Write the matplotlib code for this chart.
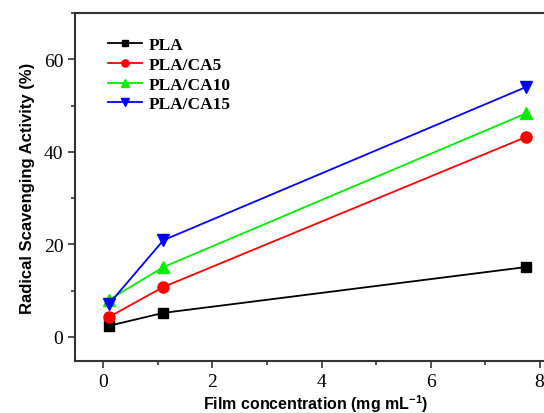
import numpy as np
import matplotlib.pyplot as plt
from matplotlib.ticker import MultipleLocator

plt.rcParams['mathtext.fontset'] = 'custom'
plt.rcParams['mathtext.rm'] = 'Liberation Sans:bold'
plt.rcParams['mathtext.bf'] = 'Liberation Sans:bold'

conc = [0.1, 1.1, 7.75]
pla = [2.4, 5.2, 15.1]
ca5 = [4.3, 10.8, 43.2]
ca10 = [8.0, 15.1, 48.3]
ca15 = [7.1, 20.9, 54.0]

series = [
    (pla, 's', 'black', 'PLA', 7),
    (ca5, 'o', 'red', 'PLA/CA5', 8),
    (ca10, '^', '#00ee00', 'PLA/CA10', 8.5),
    (ca15, 'v', 'blue', 'PLA/CA15', 8.5),
]

fig = plt.figure(figsize=(5.44, 4.14), dpi=100)
ax = fig.add_axes([0.138, 0.1256, 0.884, 0.8406])

for y, m, c, lab, ms in series:
    ax.plot(conc, y, color=c, lw=1.3, marker=m, markersize=ms, label=lab)

ax.set_xlim(-0.52, 8.3)
ax.set_ylim(-5.2, 70)
ax.xaxis.set_major_locator(MultipleLocator(2))
ax.xaxis.set_minor_locator(MultipleLocator(1))
ax.yaxis.set_major_locator(MultipleLocator(20))
ax.yaxis.set_minor_locator(MultipleLocator(10))
ax.tick_params(which='both', direction='out', width=1.2, color='#333333')
ax.tick_params(which='major', length=5, labelsize=14)
ax.tick_params(which='minor', length=3)
for lbl in ax.get_xticklabels() + ax.get_yticklabels():
    lbl.set_fontfamily('Liberation Serif')
for s in ax.spines.values():
    s.set_linewidth(1.5)
    s.set_color('#333333')

ax.set_xlabel('Film concentration (mg mL$^{-1}$)', fontfamily='Liberation Sans',
              fontweight='bold', fontsize=11.5, labelpad=1.5)
ax.set_ylabel('Radical Scavenging Activity (%)', fontfamily='Liberation Sans',
              fontweight='bold', fontsize=12, labelpad=6)

ax.legend(loc='upper left', bbox_to_anchor=(0.035, 0.975), frameon=False,
          prop={'family': 'Liberation Serif', 'weight': 'bold', 'size': 12.5},
          handlelength=2.0, labelspacing=0.2, handletextpad=0.4, markerscale=0.65)

fig.savefig('out.png', dpi=100)
